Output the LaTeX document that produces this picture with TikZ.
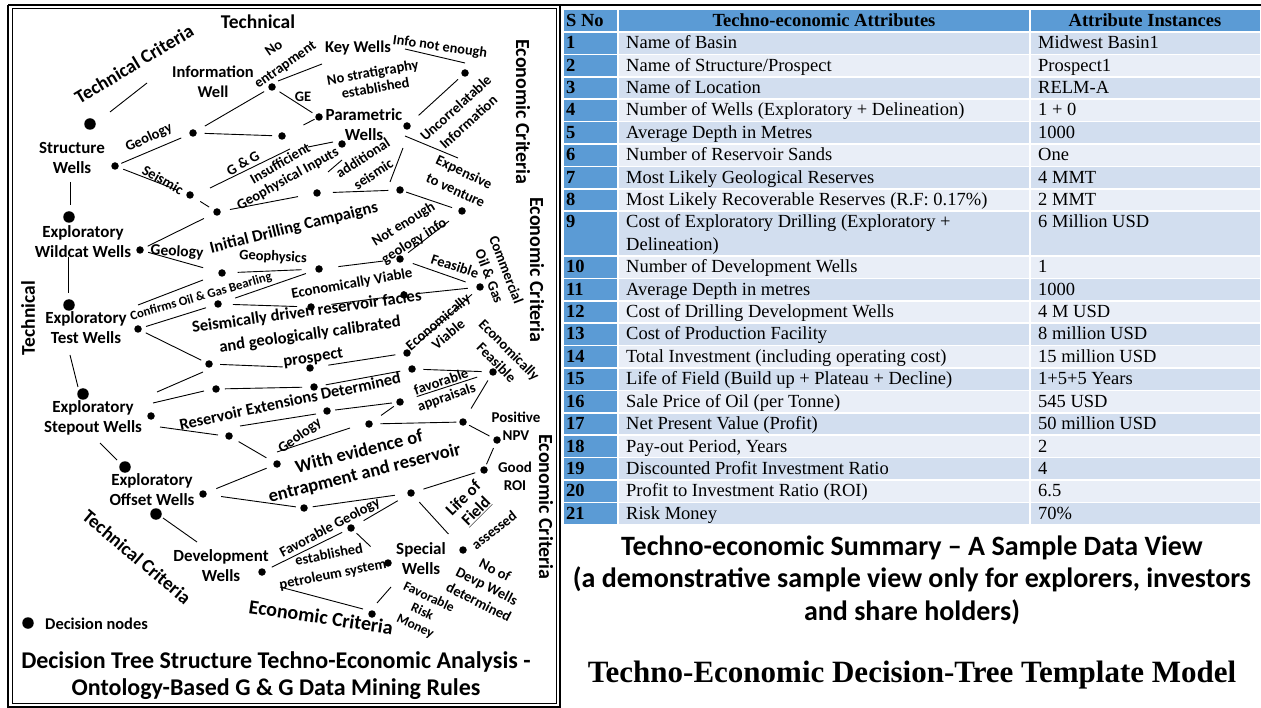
\documentclass[tikz,border=0pt]{standalone}
\usepackage{fontspec}
\setmainfont{Carlito}
\newfontfamily\tnr{Liberation Serif}
\usetikzlibrary{calc}
\definecolor{tblue}{HTML}{5B9BD5}
\definecolor{tdark}{HTML}{D2DEEF}
\definecolor{tlight}{HTML}{E9EEF7}
\newcommand\myF[2]{\bfseries\fontsize{#1}{#2}\selectfont}
\newcommand\dseg[4]{\draw[conn] ($(#1)!#3!(#2)$) -- ($(#1)!#4!(#2)$);}
\newcommand\fseg[3]{\coordinate (#1a) at (#2); \coordinate (#1b) at (#3); \draw[conn] (#1a) -- (#1b);}
\newcommand\trow[6]{%
  \filldraw[cellb,fill=tblue] (563,#2) rectangle (618,#3);
  \filldraw[cellb,fill=#4] (618,#2) rectangle (1030,#3);
  \filldraw[cellb,fill=#4] (1030,#2) rectangle (1261,#3);
  \node[tt,anchor=base west] (n#1) at (566,#2+16.8) {\textbf{#1}};
  \node[tt,anchor=base west] (a#1) at (626,#2+16.8) {#5};
  \node[tt,anchor=base west] (v#1) at (1038,#2+16.8) {#6};
}
\tikzset{
  dotn/.style={circle,fill=black,inner sep=0pt,minimum size=7.5pt},
  bigdotn/.style={circle,fill=black,inner sep=0pt,minimum size=11.5pt},
  conn/.style={line width=0.9pt},
  lb/.style={align=center,inner sep=0pt},
  cellb/.style={draw=white,line width=1.6pt},
  tt/.style={inner sep=0pt,font=\tnr\fontsize{18.5}{22}\selectfont},
}
\begin{document}
\begin{tikzpicture}[x=1pt,y=-1pt]
\useasboundingbox (0,0) rectangle (1261,708);
\fill[white] (0,0) rectangle (1261,708);
% frames
\draw[line width=2.5pt] (8,5) -- (1261,5);
\draw[line width=2.2pt] (8,5) -- (8,707) -- (560,707) -- (560,5);
\draw[line width=1pt] (12,9) rectangle (556,703);

% ---------- table ----------
\filldraw[cellb,fill=tblue] (563,9) rectangle (618,32);
\filldraw[cellb,fill=tblue] (618,9) rectangle (1030,32);
\filldraw[cellb,fill=tblue] (1030,9) rectangle (1261,32);
\node[tt,anchor=base west] (hs) at (566,26.5) {\textbf{S No}};
\node[tt,anchor=base] (ha) at (824,26.5) {\textbf{Techno-economic Attributes}};
\node[tt,anchor=base] (hi) at (1145,26.5) {\textbf{Attribute Instances}};
\trow{1}{32}{54.4}{tdark}{Name of Basin}{Midwest Basin1}
\trow{2}{54.4}{76.8}{tlight}{Name of Structure/Prospect}{Prospect1}
\trow{3}{76.8}{99.2}{tdark}{Name of Location}{RELM-A}
\trow{4}{99.2}{121.6}{tlight}{Number of Wells (Exploratory + Delineation)}{1 + 0}
\trow{5}{121.6}{144}{tdark}{Average Depth in Metres}{1000}
\trow{6}{144}{166.4}{tlight}{Number of Reservoir Sands}{One}
\trow{7}{166.4}{188.8}{tdark}{Most Likely Geological Reserves}{4 MMT}
\trow{8}{188.8}{211.2}{tlight}{Most Likely Recoverable Reserves (R.F: 0.17\%)}{2 MMT}
\trow{9}{211.2}{256}{tdark}{Cost of Exploratory Drilling (Exploratory +}{6 Million USD}
\node[tt,anchor=base west] (a9b) at (626,250.4) {Delineation)};
\trow{10}{256}{278.4}{tlight}{Number of Development Wells}{1}
\trow{11}{278.4}{300.8}{tdark}{Average Depth in metres}{1000}
\trow{12}{300.8}{323.2}{tlight}{Cost of Drilling Development Wells}{4 M USD}
\trow{13}{323.2}{345.6}{tdark}{Cost of Production Facility}{8 million USD}
\trow{14}{345.6}{368}{tlight}{Total Investment (including operating cost)}{15 million USD}
\trow{15}{368}{390.4}{tdark}{Life of Field (Build up + Plateau + Decline)}{1+5+5 Years}
\trow{16}{390.4}{412.8}{tlight}{Sale Price of Oil (per Tonne)}{545 USD}
\trow{17}{412.8}{435.2}{tdark}{Net Present Value (Profit)}{50 million USD}
\trow{18}{435.2}{457.6}{tlight}{Pay-out Period, Years}{2}
\trow{19}{457.6}{480}{tdark}{Discounted Profit Investment Ratio}{4}
\trow{20}{480}{502.4}{tlight}{Profit to Investment Ratio (ROI)}{6.5}
\trow{21}{502.4}{524.8}{tdark}{Risk Money}{70\%}

\node[lb,font=\myF{28}{32.5}] (summ) at (912,580) {Techno-economic Summary -- A Sample Data View\\(a demonstrative sample view only for explorers, investors\\and share holders)};
\node[lb,font=\tnr\bfseries\fontsize{31}{36}\selectfont] (model) at (912,675) {Techno-Economic Decision-Tree Template Model};

% ---------- dots ----------
\node[bigdotn] (B1) at (90,124) {};
\node[bigdotn] (B2) at (69,217) {};
\node[bigdotn] (B3) at (69,305) {};
\node[bigdotn] (B4) at (83,394) {};
\node[bigdotn] (B5) at (125,467) {};
\node[bigdotn] (B6) at (156,514) {};
\node[bigdotn] (BL) at (28,623) {};
\foreach \n/\p in {s1/{115,166},s2/{193,133},s3/{272,87},s4/{282,136},s5/{319,117},
  s6/{342,144},s7/{407,126},s8/{465,73},s9/{190,195},s10/{217,212},s11/{317,193},
  s12/{400,190},s13/{462,211},s14/{140,250},s15/{222,273},s16/{319,269},s17/{400,259},
  s18/{480,287},s19/{138,329},s20/{218,304},s21/{311,307},s22/{404,295},s23/{209,364},
  s24/{310,368},s25/{407,353},s26/{412,369},s27/{493,372},s28/{151,416},s29/{216,389},
  s30/{314,387},s31/{229,436},s32/{327,411},s33/{400,402},s34/{277,464},s35/{369,424},
  s36/{463,422},s37/{497,440},s38/{484,470},s39/{203,494},s40/{304,508},s41/{411,493},
  s42/{262,572},s43/{351,528},s44/{388,563},s45/{463,550},s46/{372,614}}
  {\node[dotn] (\n) at (\p) {};}

% ---------- connectors ----------
\dseg{s1}{s2}{0.08}{0.85}
\dseg{s2}{s3}{0.15}{0.9}
\dseg{s2}{s4}{0.13}{0.89}
\dseg{s3}{s5}{0.16}{0.86}
\dseg{s4}{s5}{0.58}{0.88}
\dseg{s7}{s8}{0.2}{0.88}
\dseg{s1}{s9}{0.11}{0.82}
\dseg{s9}{s10}{0.38}{0.71}
\dseg{s10}{s11}{0.13}{0.81}
\dseg{s11}{s12}{0.19}{0.86}
\dseg{s12}{s13}{0.1}{0.84}
\dseg{s14}{s10}{0.1}{0.83}
\dseg{s14}{s15}{0.1}{0.77}
\dseg{s15}{s16}{0.16}{0.82}
\dseg{s16}{s17}{0.24}{0.79}
\dseg{s17}{s13}{0.13}{0.79}
\dseg{s17}{s18}{0.16}{0.82}
\dseg{s22}{s18}{0.18}{0.84}
\dseg{s25}{s18}{0.13}{0.89}
\dseg{s19}{s20}{0.1}{0.85}
\dseg{s20}{s16}{0.17}{0.87}
\dseg{s20}{s21}{0.16}{0.85}
\dseg{s21}{s22}{0.22}{0.88}
\dseg{s19}{s23}{0.11}{0.89}
\dseg{s23}{s24}{0.11}{0.73}
\dseg{s24}{s25}{0.19}{0.88}
\dseg{s26}{s27}{0.14}{0.86}
\dseg{s30}{s26}{0.12}{0.88}
\dseg{s29}{s30}{0.09}{0.88}
\dseg{s31}{s34}{0.2}{0.78}
\dseg{s32}{s33}{0.11}{0.89}
\dseg{s33}{s27}{0.18}{0.83}
\dseg{s35}{s33}{0.39}{0.8}
\dseg{s35}{s36}{0.12}{0.93}
\dseg{s36}{s27}{0.27}{0.83}
\dseg{s36}{s37}{0.18}{0.78}
\dseg{s38}{s37}{0.19}{0.73}
\dseg{s41}{s38}{0.17}{0.88}
\dseg{s39}{s34}{0.18}{0.86}
\dseg{s39}{s40}{0.18}{0.92}
\dseg{s40}{s41}{0.08}{0.85}
\dseg{s43}{s41}{0.21}{0.78}
\dseg{s43}{s44}{0.15}{0.53}
\dseg{s42}{s43}{0.11}{0.9}
\dseg{s41}{s45}{0.16}{0.72}
\fseg{f1}{110,112}{147,83}
\fseg{f2}{278,81}{322,64}
\fseg{f3}{405,49}{465,63}
\fseg{f4}{405,136}{458,158}
\fseg{f5}{403,148}{390,182}
\fseg{f6}{328,172}{342,160}
\fseg{f7}{308,147}{333,142}
\fseg{f8}{210,188}{290,149}
\fseg{f9}{70,182}{70,205}
\fseg{f10}{68,257}{68,293}
\fseg{f11}{138,305}{203,280}
\fseg{f12}{157,392}{203,372}
\fseg{f13}{153,403}{204,391}
\fseg{f14}{160,427}{218,435}
\fseg{f15}{240,426}{316,414}
\fseg{f16}{277,452}{350,428}
\fseg{f17}{70,355}{78,387}
\fseg{f18}{100,443}{117,460}
\fseg{f19}{163,518}{197,542}
\fseg{f21}{377,603}{391,587}
\fseg{f22}{280,587}{363,609}

% ---------- labels ----------
\node[lb,font=\myF{19}{22},rotate=31] (tc1) at (134,64) {Technical Criteria};
\node[lb,font=\myF{19.5}{22}] (tech) at (258,22) {Technical};
\node[lb,font=\myF{16.5}{20}] (info) at (213,82) {Information\\Well};
\node[lb,font=\myF{14.5}{20},rotate=35] (noent) at (280,57) {No\\entrapment};
\node[lb,font=\myF{16.5}{20}] (keyw) at (358,48) {Key Wells};
\node[lb,font=\myF{14.3}{16},rotate=-8] (infone) at (440,47) {Info not enough};
\node[lb,font=\myF{14.5}{16},rotate=10] (nostr) at (374,80) {No stratigraphy\\established};
\node[lb,font=\myF{14.5}{16}] (ge) at (303,97) {GE};
\node[lb,font=\myF{17}{20}] (param) at (364,125) {Parametric\\Wells};
\node[lb,font=\myF{14.5}{19},rotate=42] (uncor) at (462,115) {Uncorrelatable\\Information};
\node[lb,font=\myF{20}{22},rotate=-90] (ecr1) at (523,112) {Economic Criteria};
\node[lb,font=\myF{17}{20}] (strw) at (72,158) {Structure\\Wells};
\node[lb,font=\myF{14.5}{16},rotate=25] (geo1) at (149,138) {Geology};
\node[lb,font=\myF{14.5}{16},rotate=-30] (seis) at (163,180) {Seismic};
\node[lb,font=\myF{14.5}{16},rotate=30] (gg) at (243,163) {G \& G};
\node[lb,font=\myF{14.5}{16},rotate=30] (insuf) at (280,163) {Insufficient};
\node[lb,font=\myF{14.5}{16},rotate=29] (geoin) at (288,179) {Geophysical Inputs};
\node[lb,font=\myF{14.5}{19},rotate=33] (addl) at (368,166) {additional\\seismic};
\node[lb,font=\myF{14.5}{20},rotate=-25] (expen) at (460,181) {Expensive\\to venture};
\node[lb,font=\myF{16.7}{18},rotate=14] (idc) at (294,228) {Initial Drilling Campaigns};
\node[lb,font=\myF{14.5}{20},rotate=32] (noten) at (409,233) {Not enough\\geology info};
\node[lb,font=\myF{15.5}{16},rotate=-3] (geo2) at (177,252) {Geology};
\node[lb,font=\myF{14.5}{16},rotate=-3] (geoph) at (273,257) {Geophysics};
\node[lb,font=\myF{12.8}{14},rotate=16] (confirm) at (201,297) {Confirms Oil \& Gas Bearling};
\node[lb,font=\myF{14.8}{16},rotate=10] (ecv1) at (352,284) {Economically Viable};
\node[lb,font=\myF{14.5}{16},rotate=-18] (feas) at (455,266) {Feasible};
\node[lb,font=\myF{14.5}{18},rotate=-69] (comm) at (498,273) {Commercial\\Oil \& Gas};
\node[lb,font=\myF{20}{22},rotate=-90] (ecr2) at (537,270) {Economic Criteria};
\node[lb,font=\myF{16.6}{23},rotate=8] (seisd) at (310,335) {Seismically driven reservoir facies\\and geologically calibrated\\prospect};
\node[lb,font=\myF{14.5}{16},rotate=40] (ecv2) at (443,328) {Economically\\Viable};
\node[lb,font=\myF{14.5}{18},rotate=-45] (ecf) at (503,356) {Economically\\Feasible};
\node[lb,font=\myF{16.4}{18},rotate=12] (rext) at (290,401) {Reservoir Extensions Determined};
\node[lb,font=\myF{14.5}{16},rotate=19] (fav) at (444,390) {favorable\\appraisals};
\node[lb,font=\myF{14.5}{16},rotate=36] (geo3) at (300,436) {Geology};
\node[lb,font=\myF{18.5}{22},rotate=14] (wev) at (362,463) {With evidence of\\entrapment and reservoir};
\node[lb,font=\myF{15}{18}] (posnpv) at (516,426) {Positive\\NPV};
\node[lb,font=\myF{15}{18}] (goodroi) at (515,476) {Good\\ROI};
\node[lb,font=\myF{16.5}{18},rotate=45] (lof) at (470,505) {Life of\\\underline{Field}};
\node[lb,font=\myF{14.5}{16},rotate=38] (assess) at (494,530) {assessed};
\node[lb,font=\myF{14.5}{18},rotate=-27] (noof) at (487,586) {No of\\Devp Wells\\determined};
\node[lb,font=\myF{13.5}{16},rotate=-25] (frm) at (422,612) {Favorable\\Risk\\Money};
\node[lb,font=\myF{17}{20}] (spw) at (421,559) {Special\\Wells};
\node[lb,font=\myF{14.5}{16},rotate=28] (favg) at (330,528) {Favorable Geology};
\node[lb,font=\myF{14.5}{20},rotate=11] (estp) at (331,565) {established\\petroleum system};
\node[lb,font=\myF{20}{22},rotate=-8.5] (ecr3) at (321,617) {Economic Criteria};
\node[lb,font=\myF{19}{22},rotate=-40] (tc2) at (137,557) {Technical Criteria};
\node[lb,font=\myF{17}{20}] (devw) at (221,566) {Development\\Wells};
\node[lb,font=\myF{17}{20}] (eww) at (83,242) {Exploratory\\Wildcat Wells};
\node[lb,font=\myF{17}{20}] (etw) at (86,328) {Exploratory\\Test Wells};
\node[lb,font=\myF{17}{20}] (esw) at (93,418) {Exploratory\\Stepout Wells};
\node[lb,font=\myF{17}{20}] (eow) at (152,490) {Exploratory\\Offset Wells};
\node[lb,font=\myF{19.5}{22},rotate=90] (tech2) at (28,318) {Technical};
\node[lb,font=\myF{20}{22},rotate=-90] (ecr4) at (546,507) {Economic Criteria};
\node[lb,font=\myF{16.4}{18},anchor=west] (leg) at (45,624) {Decision nodes};
\node[lb,font=\myF{24}{27}] (title) at (276,676) {Decision Tree Structure Techno-Economic Analysis -\\Ontology-Based G \& G Data Mining Rules};
\end{tikzpicture}
\end{document}
